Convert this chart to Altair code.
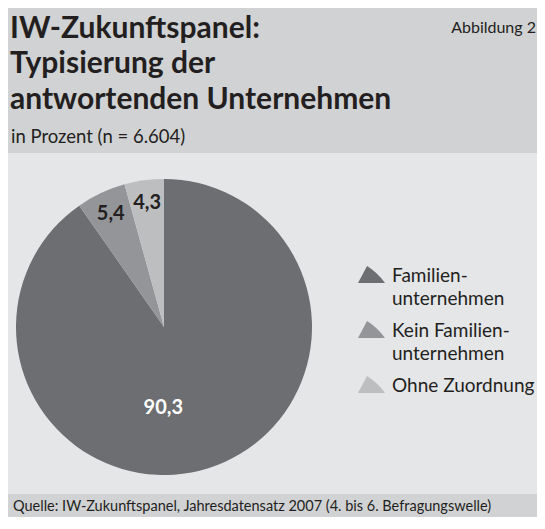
import altair as alt
import pandas as pd

# ---- data ----
categories = ["Familienunternehmen", "Kein Familienunternehmen", "Ohne Zuordnung"]
legend_labels = ["Familien-\nunternehmen", "Kein Familien-\nunternehmen", "Ohne Zuordnung"]
shares = [90.3, 5.4, 4.3]
order_idx = [0, 1, 2]
colors = ["#6d6e71", "#939598", "#bcbec0"]

title_text = "IW-Zukunftspanel:\nTypisierung der\nantwortenden Unternehmen"
subtitle_text = "in Prozent (n = 6.604)"
figure_text = "Abbildung 2"
source_text = "Quelle: IW-Zukunftspanel, Jahresdatensatz 2007 (4. bis 6. Befragungswelle)"

W, H = 529, 509
FONT = "Lato"
INK = "#231f20"
BAND = "#d1d2d4"
BODY = "#e5e6e8"

df = pd.DataFrame({"cat": categories, "legend": legend_labels,
                   "value": shares, "idx": order_idx})

one = pd.DataFrame({"k": [0]})

# ---- background bands ----
header_band = alt.Chart(one).mark_rect(color=BAND).encode(
    x=alt.value(0), x2=alt.value(W), y=alt.value(0), y2=alt.value(145))
footer_band = alt.Chart(one).mark_rect(color=BAND).encode(
    x=alt.value(0), x2=alt.value(W), y=alt.value(486), y2=alt.value(H))

# ---- header texts ----
title = alt.Chart(pd.DataFrame({"t": [title_text]})).mark_text(
    align="left", baseline="alphabetic", font=FONT, fontSize=30, fontWeight="bold",
    color=INK, lineBreak="\n", lineHeight=35.5).encode(
    x=alt.value(2), y=alt.value(29.5), text="t:N")
subtitle = alt.Chart(pd.DataFrame({"t": [subtitle_text]})).mark_text(
    align="left", baseline="alphabetic", font=FONT, fontSize=18.5, color=INK).encode(
    x=alt.value(3), y=alt.value(135), text="t:N")
figure = alt.Chart(pd.DataFrame({"t": [figure_text]})).mark_text(
    align="right", baseline="alphabetic", font=FONT, fontSize=16, color=INK).encode(
    x=alt.value(528), y=alt.value(25), text="t:N")
source = alt.Chart(pd.DataFrame({"t": [source_text]})).mark_text(
    align="left", baseline="alphabetic", font=FONT, fontSize=14.5, color=INK).encode(
    x=alt.value(5), y=alt.value(503), text="t:N")

# ---- pie ----
CX, CY = 156, 319
color_enc = alt.Color("cat:N", scale=alt.Scale(domain=categories, range=colors), legend=None)
theta_enc = alt.Theta("value:Q", stack=True)

base = alt.Chart(df).transform_calculate(
    label="replace(format(datum.value, '.1f'), '.', ',')")

pie = base.mark_arc(outerRadius=148).encode(
    theta=theta_enc, color=color_enc, order=alt.Order("idx:Q"),
    x=alt.value(CX), y=alt.value(CY))

small_labels = base.transform_calculate(
    lab="datum.idx == 0 ? '' : datum.label").mark_text(
    radius=125, font=FONT, fontSize=20, fontWeight="bold", color=INK,
    align="center", baseline="middle").encode(
    theta=theta_enc, order=alt.Order("idx:Q"), text="lab:N",
    x=alt.value(CX), y=alt.value(CY))

big_label = base.transform_calculate(
    lab="datum.idx == 0 ? datum.label : ''").mark_text(
    radius=81, dx=-25, dy=4, font=FONT, fontSize=20, fontWeight="bold", color="white",
    align="center", baseline="middle").encode(
    theta=theta_enc, order=alt.Order("idx:Q"), text="lab:N",
    x=alt.value(CX), y=alt.value(CY))

# ---- legend ----
WEDGE = "M -0.33,-0.63 Q 0.45,-0.15 1,0.63 L -1,0.63 Z"
leg_y = alt.Y("cat:N", scale=alt.Scale(type="point", domain=categories,
                                       range=[266.5, 376.5], padding=0), axis=None)
leg_symbols = alt.Chart(df).mark_point(
    shape=WEDGE, size=729, filled=True, opacity=1, strokeWidth=0).encode(
    x=alt.value(363.5), y=leg_y, color=color_enc)
leg_text = alt.Chart(df).mark_text(
    align="left", baseline="alphabetic", dy=7.5, lineBreak="\n", lineHeight=23,
    font=FONT, fontSize=19, color=INK).encode(
    x=alt.value(384), y=leg_y, text="legend:N")

chart = alt.layer(
    header_band, footer_band, title, subtitle, figure, source,
    pie, small_labels, big_label, leg_symbols, leg_text
).properties(
    width=W, height=H, autosize=alt.AutoSizeParams(type="none"), padding=0
).configure(background=BODY).configure_view(stroke=None)

chart.save("out.html", embed_options={"renderer": "svg", "actions": False})
